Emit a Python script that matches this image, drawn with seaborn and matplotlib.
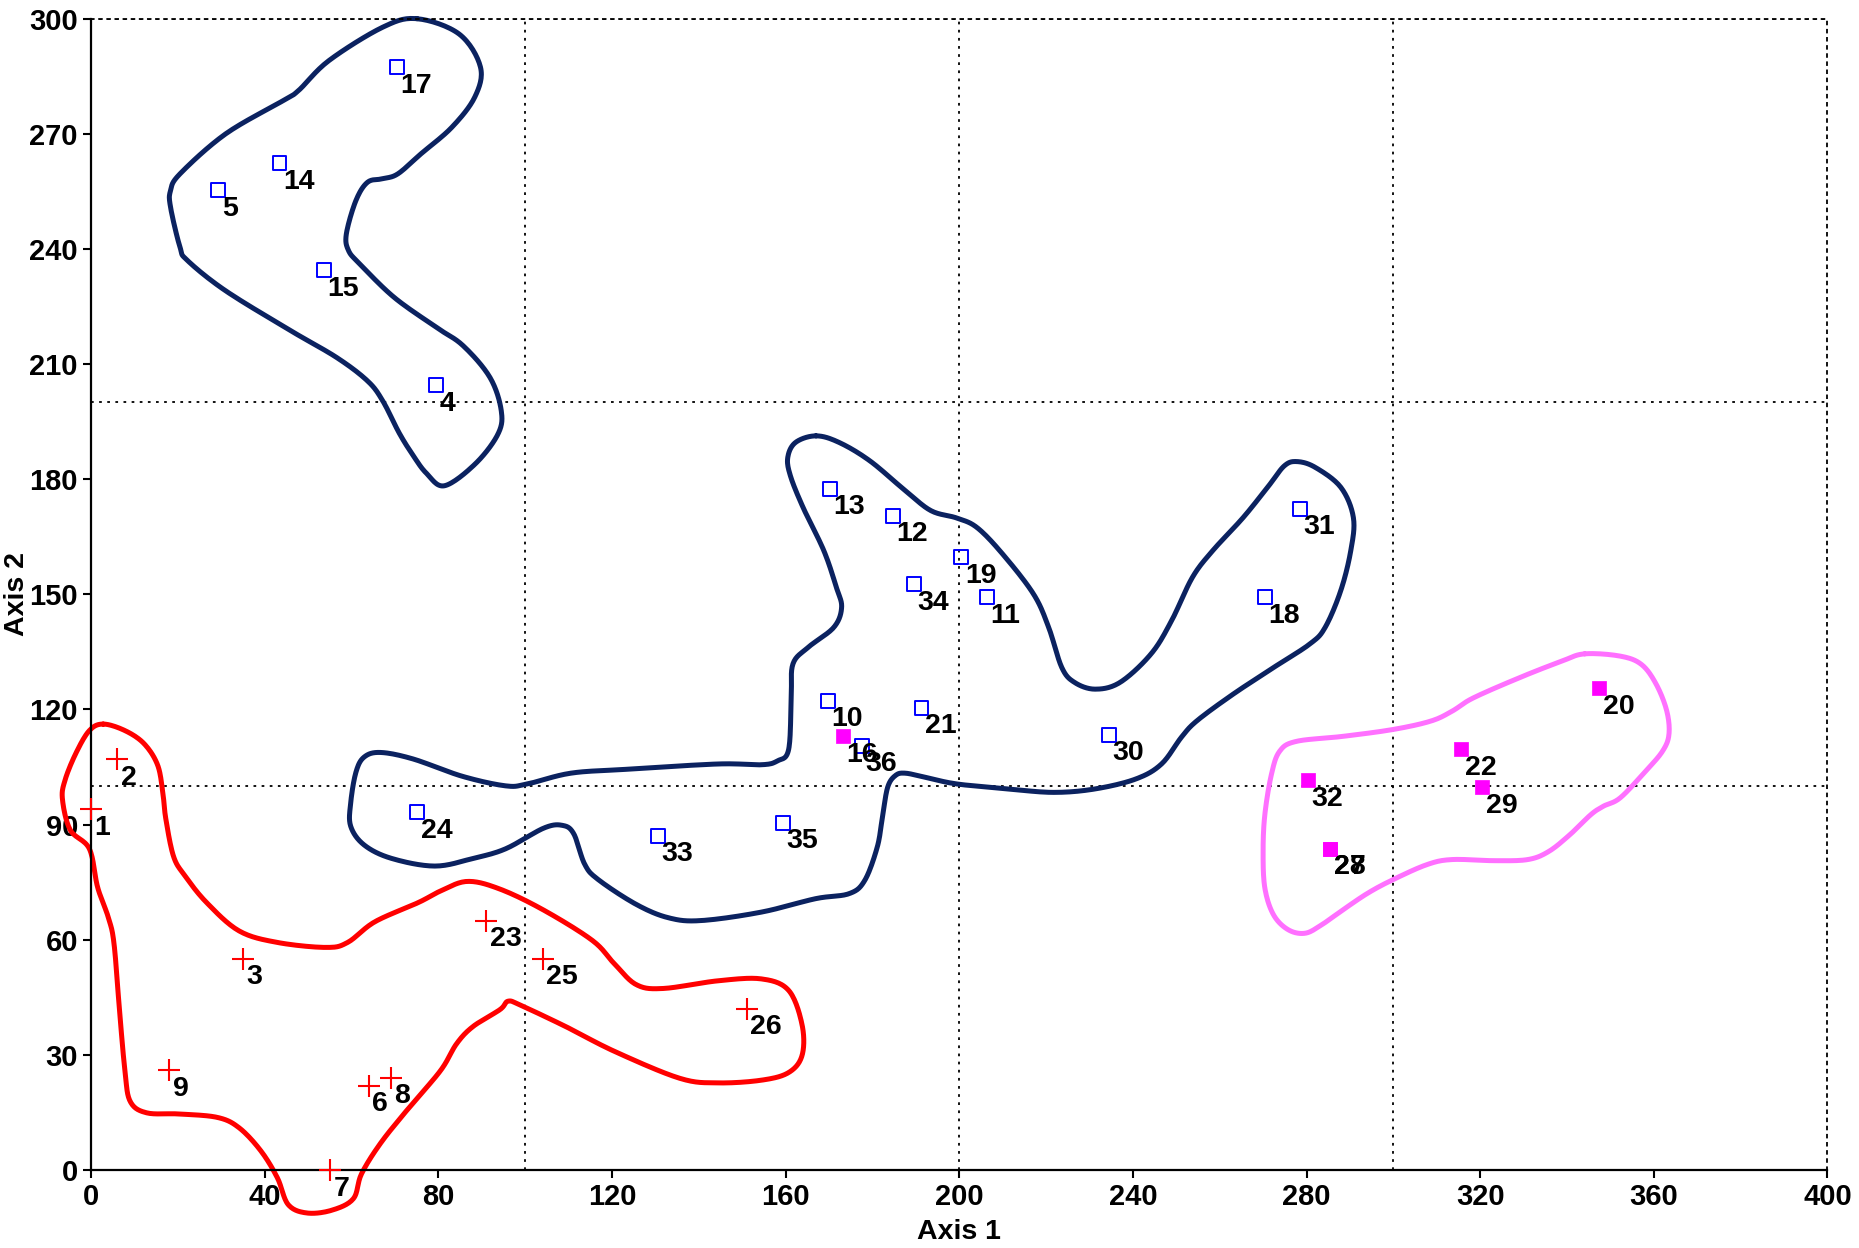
import numpy as np
import pandas as pd
import matplotlib
matplotlib.use("Agg")
import matplotlib.pyplot as plt
import seaborn as sns

# ---------------- data ----------------
red_ids = ["1", "2", "3", "6", "7", "8", "9", "23", "25", "26"]
red_x = [0, 6, 35, 64, 55, 69, 18, 91, 104, 151]
red_y = [94, 107, 55, 22, 0, 24, 26, 65, 55, 42]

blue_ids = ["4", "5", "10", "11", "12", "13", "14", "15", "17", "18", "19", "21",
            "24", "30", "31", "33", "34", "35", "36"]
blue_x = [79.5, 29.3, 169.7, 206.3, 184.7, 170.2, 43.4, 53.6, 70.5, 270.5, 200.5, 191.3,
          75.1, 234.4, 278.4, 130.6, 189.6, 159.3, 177.6]
blue_y = [204.5, 255.3, 122.3, 149.2, 170.5, 177.5, 262.3, 234.5, 287.4, 149.2, 159.7, 120.5,
          93.3, 113.4, 172.3, 87.1, 152.6, 90.5, 110.6]

mag_ids = ["16", "20", "22", "27", "28", "29", "32"]
mag_x = [173.2, 347.4, 315.6, 285.5, 285.5, 320.5, 280.3]
mag_y = [113.1, 125.5, 109.7, 83.7, 83.7, 99.8, 101.6]

# group outlines (traced outline vertices)
hullA_x = [75.1, 84.8, 89.7, 88.4, 83.1, 76.0, 70.7, 67.2, 63.7, 61.0, 58.8, 59.3, 61.9,
           69.8, 79.5, 85.7, 91.9, 94.5, 93.7, 88.5, 81.4, 77.3, 74.3, 71.0, 67.2, 63.7,
           56.6, 46.0, 31.0, 22.2, 20.5, 18.3, 18.3, 20.5, 31.0, 44.3, 47.8, 54.8, 67.2]
hullA_y = [300.0, 296.0, 287.4, 279.6, 271.7, 264.8, 259.6, 258.3, 257.4, 252.6, 243.9, 239.6,
           236.1, 227.4, 219.6, 214.8, 206.5, 197.8, 191.7, 184.0, 178.3, 181.5, 186.0, 192.0,
           200.4, 205.6, 211.7, 218.7, 229.1, 237.0, 240.4, 250.9, 255.2, 259.6, 270.0, 278.7,
           281.3, 289.1, 297.8]

hullB_x = [167.0, 172.3, 179.4, 187.6, 193.5, 199.4, 204.1, 210.0, 217.1, 220.6, 223.6, 226.5,
           231.3, 237.1, 244.2, 248.9, 253.7, 258.4, 265.4, 271.3, 274.9, 277.8, 282.0, 287.9,
           290.8, 290.2, 287.9, 284.3, 280.8, 272.5, 263.1, 254.8, 251.2, 246.6, 240.7, 231.3,
           221.8, 211.2, 199.4, 192.3, 187.6, 185.3, 183.5, 182.3, 181.1, 178.2, 174.6, 166.9,
           154.4, 140.6, 133.1, 125.6, 116.8, 113.7, 111.2, 108.6, 104.3, 95.5, 88.0, 79.2,
           69.2, 62.9, 59.8, 59.8, 61.0, 62.9, 66.7, 74.2, 85.5, 95.5, 100.5, 110.5, 123.1,
           144.4, 154.4, 158.1, 160.7, 161.3, 161.7, 165.2, 171.1, 172.9, 171.7, 168.8, 164.0,
           161.1, 160.5, 162.3]
hullB_y = [191.3, 189.6, 184.8, 177.0, 171.8, 169.9, 167.4, 160.5, 150.1, 141.4, 131.0, 127.1,
           125.3, 127.1, 134.5, 143.1, 154.4, 161.4, 170.0, 178.3, 183.5, 184.6, 183.1, 177.9,
           170.0, 161.4, 151.0, 141.4, 137.1, 131.0, 124.0, 117.1, 112.8, 105.8, 101.9, 99.3,
           98.4, 99.3, 100.6, 102.3, 103.4, 102.8, 99.7, 91.9, 84.1, 75.4, 72.0, 70.7,
           67.2, 65.0, 65.7, 69.2, 75.7, 79.7, 87.6, 89.8, 89.1, 83.7, 81.2, 79.2,
           81.2, 84.7, 89.6, 95.6, 103.6, 107.6, 108.8, 107.1, 102.6, 100.1, 100.6, 103.4, 104.4,
           105.8, 105.6, 106.6, 109.6, 123.5, 131.9, 136.2, 141.4, 146.6, 151.8, 161.4, 172.7,
           180.9, 185.7, 189.6]

hullC_x = [2.8, 7.8, 12.2, 15.3, 16.5, 17.2, 19.0, 21.6, 26.6, 34.1, 42.9, 54.1, 59.1, 65.4,
           75.4, 80.5, 86.7, 94.2, 104.3, 115.5, 120.5, 125.6, 131.8, 144.4, 154.4, 160.7,
           163.8, 163.8, 160.7, 154.4, 144.4, 135.6, 120.6, 109.3, 99.2, 96.1, 94.2, 88.0,
           84.2, 80.5, 73.0, 66.7, 62.3, 60.4, 55.4, 49.7, 45.4, 42.9, 39.1, 34.1, 29.1,
           20.3, 12.8, 9.0, 7.8, 6.6, 5.3, 4.0, 1.5, -0.4, -4.8, -6.6, -6.0, -3.5, -0.4]
hullC_y = [116.2, 114.5, 111.1, 105.6, 98.6, 91.6, 81.7, 76.7, 69.7, 62.3, 59.3, 58.0, 59.3,
           64.7, 69.7, 72.7, 75.2, 73.2, 67.7, 59.8, 53.8, 48.3, 47.3, 49.3, 49.8, 46.8,
           37.8, 29.9, 25.4, 23.4, 22.7, 23.9, 30.9, 37.4, 42.8, 44.0, 41.8, 37.4,
           32.9, 25.9, 15.9, 7.0, -1.0, -7.5, -10.5, -11.2, -9.0, -2.0, 5.0, 11.0, 13.7,
           14.6, 14.9, 17.9, 25.9, 40.8, 58.8, 65.7, 73.7, 83.7, 88.6, 96.6, 101.6, 108.6, 114.5]

hullD_x = [344.1, 352.3, 357.2, 360.6, 363.0, 363.5, 362.0, 358.1, 352.3, 348.4, 345.5, 340.7,
           335.8, 331.0, 323.3, 313.6, 307.8, 300.0, 294.2, 288.4, 283.5, 279.7, 275.8, 272.4,
           270.4, 270.0, 270.4, 271.9, 273.8, 277.7, 288.4, 300.0, 308.7, 313.6, 318.4, 329.1,
           338.8]
hullD_y = [134.5, 133.9, 131.7, 126.5, 119.6, 113.5, 109.1, 103.9, 97.0, 94.8, 92.6, 87.4,
           83.0, 80.9, 80.6, 80.9, 79.6, 75.7, 72.2, 67.8, 63.9, 61.7, 62.6, 66.5,
           73.5, 83.0, 92.6, 103.0, 109.1, 111.7, 113.0, 114.8, 117.0, 119.6, 123.0, 128.3,
           132.6]

x_ticks = list(range(0, 401, 40))
y_ticks = list(range(0, 301, 30))


def smooth_closed(xs, ys, n=16):
    P = np.column_stack([xs, ys]).astype(float)
    N = len(P)
    t = np.linspace(0, 1, n, endpoint=False)[:, None]
    segs = []
    for i in range(N):
        p0, p1, p2, p3 = P[i - 1], P[i], P[(i + 1) % N], P[(i + 2) % N]
        seg = 0.5 * (2 * p1 + (-p0 + p2) * t + (2 * p0 - 5 * p1 + 4 * p2 - p3) * t ** 2
                     + (-p0 + 3 * p1 - 3 * p2 + p3) * t ** 3)
        segs.append(seg)
    segs.append(P[:1])
    S = np.vstack(segs)
    return S[:, 0], S[:, 1]


# ---------------- plot ----------------
sns.set_theme(style="white")
plt.rcParams["font.family"] = ["Liberation Sans", "DejaVu Sans"]
plt.rcParams["font.weight"] = "bold"

fig = plt.figure(figsize=(18.59, 12.48), dpi=100)
ax = fig.add_axes([0.049, 0.0625, 0.934, 0.9225])

dot = (0, (1.5, 3))
for v in [100, 200, 300]:
    ax.axvline(v, color="black", lw=1.3, ls=dot, zorder=0)
for v in [100, 200, 300]:
    ax.axhline(v, color="black", lw=1.3, ls=dot, zorder=0)

navy = "#0b2260"
for hx, hy, col in [(hullA_x, hullA_y, navy), (hullB_x, hullB_y, navy),
                    (hullC_x, hullC_y, "#ff0000"), (hullD_x, hullD_y, "#ff70ff")]:
    sx, sy = smooth_closed(hx, hy)
    ax.plot(sx, sy, color=col, lw=3.6, clip_on=False, zorder=2, solid_joinstyle="round")

red_df = pd.DataFrame({"x": red_x, "y": red_y, "id": red_ids})
blue_df = pd.DataFrame({"x": blue_x, "y": blue_y, "id": blue_ids})
mag_df = pd.DataFrame({"x": mag_x, "y": mag_y, "id": mag_ids})

sns.scatterplot(data=red_df, x="x", y="y", marker="+", color="#ff0000", s=240,
                linewidth=1.5, ax=ax, zorder=3, clip_on=False)
sns.scatterplot(data=blue_df, x="x", y="y", marker="s", facecolor="none",
                edgecolor="#0000ff", s=100, linewidth=1.4, ax=ax, zorder=3)
sns.scatterplot(data=mag_df, x="x", y="y", marker="s", color="#ff00ff",
                edgecolor="#ff00ff", s=100, linewidth=0.5, ax=ax, zorder=3)

for df in (red_df, blue_df, mag_df):
    for _, r in df.iterrows():
        ax.annotate(r["id"], (r["x"], r["y"]), xytext=(2.5, -4), textcoords="offset points",
                    ha="left", va="top", fontsize=20.5, fontweight="bold", color="black",
                    zorder=4, annotation_clip=False)

ax.set_xlim(0, 400)
ax.set_ylim(0, 300)
ax.set_xticks(x_ticks)
ax.set_yticks(y_ticks)
ax.set_xticklabels([str(v) for v in x_ticks], fontsize=21, fontweight="bold")
ax.set_yticklabels([str(v) for v in y_ticks], fontsize=21, fontweight="bold")
ax.tick_params(axis="both", direction="out", length=6, width=1.5, color="black",
               pad=3.5, labelcolor="black", bottom=True, left=True)
ax.set_xlabel("Axis 1", fontsize=20.5, fontweight="bold", color="black")
ax.set_ylabel("Axis 2", fontsize=20.5, fontweight="bold", color="black")
ax.xaxis.set_label_coords(0.5, -0.054)
ax.xaxis.label.set_va("center")
ax.yaxis.set_label_coords(-0.0425, 0.5)
ax.yaxis.label.set_va("center")

for s in ["left", "bottom"]:
    ax.spines[s].set_color("black")
    ax.spines[s].set_linewidth(1.6)
for s in ["top", "right"]:
    ax.spines[s].set_color("black")
    ax.spines[s].set_linewidth(1.3)
    ax.spines[s].set_linestyle(dot)
ax.grid(False)
if ax.get_legend():
    ax.get_legend().remove()

fig.savefig("out.png", dpi=100)
